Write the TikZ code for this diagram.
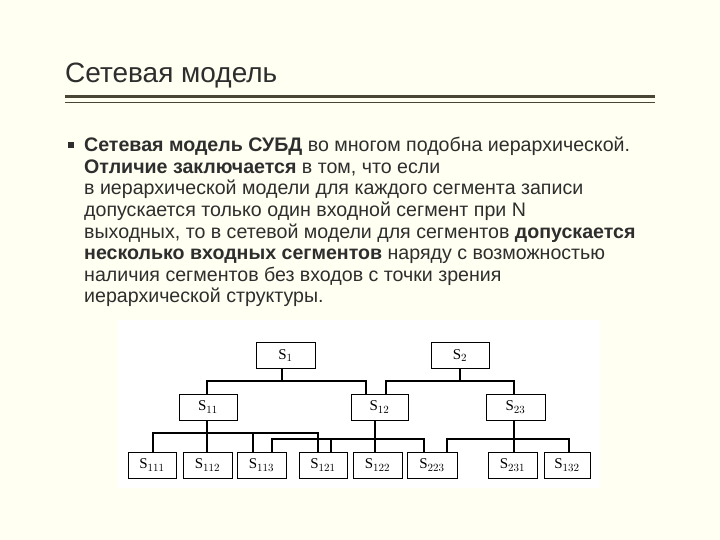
\documentclass[tikz,border=0pt]{standalone}
\usepackage{fontspec}
\setmainfont{Liberation Sans}
\newfontfamily\tms{Liberation Serif}
\definecolor{bg}{HTML}{FFFFF2}
\definecolor{txt}{HTML}{2E2E2E}
\definecolor{rule}{HTML}{4A4636}
\begin{document}
\begin{tikzpicture}[x=1pt,y=-1pt,
  ln/.style={anchor=base west,inner sep=0pt,text=txt,font=\fontsize{19.6}{20}\selectfont},
  bx/.style={draw,line width=1pt,minimum height=26pt,inner sep=0pt,font=\tms\fontsize{15}{16}\selectfont},
  cn/.style={line width=1.3pt}]
\fill[bg] (0,0) rectangle (720,540);
\useasboundingbox (0,0) rectangle (720,540);
\fill[white] (118,320) rectangle (600,488);
\node[anchor=base west,inner sep=0pt,text=txt,font=\fontsize{28}{30}\selectfont] (title) at (65,83) {Сетевая модель};
\draw[rule,line width=3pt] (65,97) -- (655,97);
\draw[rule,line width=1pt] (65,103) -- (655,103);
\node[fill=txt,minimum size=5.5pt,inner sep=0pt] (bul) at (71,145) {};
\node[ln] (l1) at (84,152) {\textbf{Сетевая модель СУБД} во многом подобна иерархической.};
\node[ln] (l2) at (84,173.5) {\textbf{Отличие заключается} в том, что если};
\node[ln] (l3) at (84,195) {в иерархической модели для каждого сегмента записи};
\node[ln] (l4) at (84,216.5) {допускается только один входной сегмент при N};
\node[ln] (l5) at (84,238) {выходных, то в сетевой модели для сегментов \textbf{допускается}};
\node[ln] (l6) at (84,259.5) {\textbf{несколько входных сегментов} наряду с возможностью};
\node[ln] (l7) at (84,281) {наличия сегментов без входов с точки зрения};
\node[ln] (l8) at (84,302.5) {иерархической структуры.};
% boxes
\node[bx,minimum width=59pt] (s1) at (285.5,355.5) {S$_1$};
\node[bx,minimum width=58pt] (s2) at (460,355.5) {S$_2$};
\node[bx,minimum width=58pt] (s11) at (208,407) {S$_{11}$};
\node[bx,minimum width=57pt] (s12) at (379.5,407) {S$_{12}$};
\node[bx,minimum width=59pt] (s23) at (515.5,407) {S$_{23}$};
\node[bx,minimum width=48pt] (s111) at (152,465) {S$_{111}$};
\node[bx,minimum width=49pt] (s112) at (207.5,465) {S$_{112}$};
\node[bx,minimum width=49pt] (s113) at (261.5,465) {S$_{113}$};
\node[bx,minimum width=48pt] (s121) at (323,465) {S$_{121}$};
\node[bx,minimum width=49pt] (s122) at (377.5,465) {S$_{122}$};
\node[bx,minimum width=50pt] (s223) at (432,465) {S$_{223}$};
\node[bx,minimum width=49pt] (s231) at (512.5,465) {S$_{231}$};
\node[bx,minimum width=46pt] (s132) at (567,465) {S$_{132}$};
% connectors
\draw[cn] (282,368) -- (282,381) -- (207,381) -- (207,394);
\draw[cn] (282,381) -- (366,381) -- (366,394);
\draw[cn] (460,368) -- (460,381) -- (386,381) -- (386,394);
\draw[cn] (460,381) -- (514,381) -- (514,394);
\draw[cn] (207,420) -- (207,452);
\draw[cn] (153,452) -- (153,433) -- (318,433) -- (318,452);
\draw[cn] (253,433) -- (253,452);
\draw[cn] (375,420) -- (375,452);
\draw[cn] (272,452) -- (272,439) -- (424,439) -- (424,452);
\draw[cn] (331,439) -- (331,452);
\draw[cn] (514,420) -- (514,452);
\draw[cn] (447,452) -- (447,439) -- (569,439) -- (569,452);
\end{tikzpicture}
\end{document}
